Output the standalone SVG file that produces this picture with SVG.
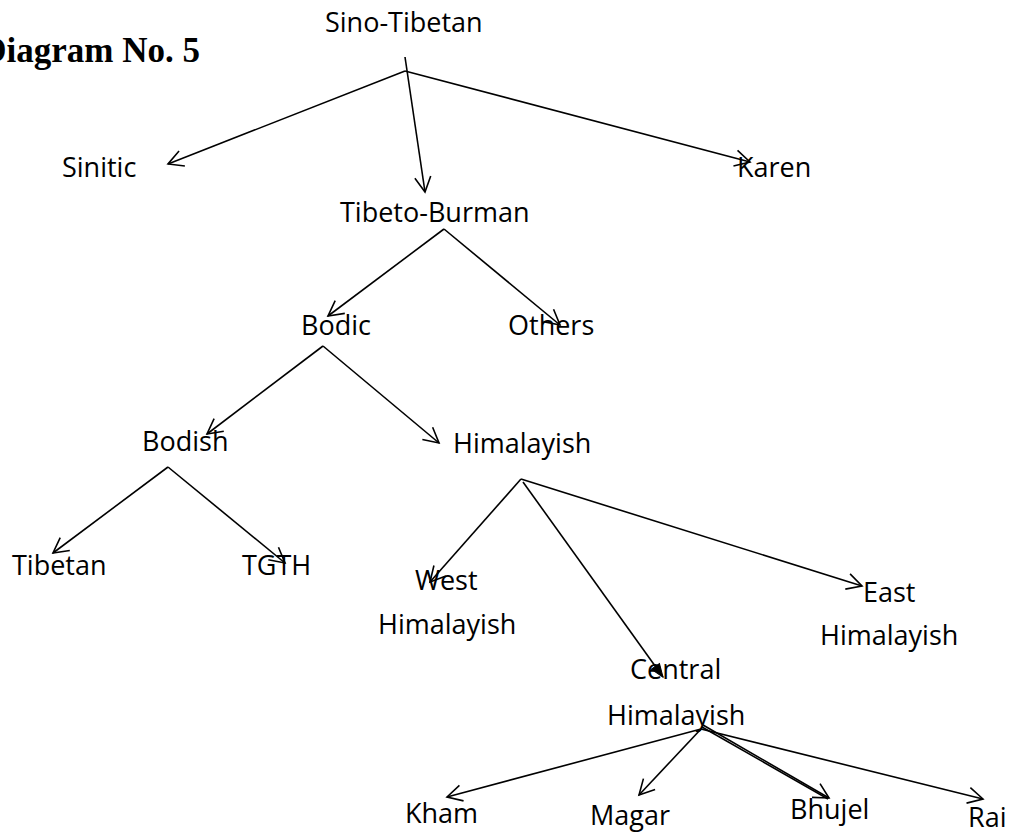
<svg xmlns="http://www.w3.org/2000/svg" width="1015" height="836" viewBox="0 0 1015 836">
<style>
.t{font-family:"Open Sans","Noto Sans",sans-serif;font-size:27px;fill:#000}
.title{font-family:"Liberation Serif","Times New Roman",serif;font-size:35px;font-weight:bold;fill:#000}
.c line{stroke:#000;stroke-width:1.6;fill:none}
</style>
<defs>
<marker id="open" markerUnits="userSpaceOnUse" markerWidth="30" markerHeight="30" refX="0" refY="0" viewBox="-20 -15 30 30" orient="auto" overflow="visible">
<path d="M-15,-8 L0,0 L-15,8" fill="none" stroke="#000" stroke-width="1.6"/>
</marker>
<marker id="solid" markerUnits="userSpaceOnUse" markerWidth="30" markerHeight="30" refX="0" refY="0" viewBox="-20 -15 30 30" orient="auto" overflow="visible">
<path d="M-13,-5 L0,0 L-13,5 Z" fill="#000" stroke="#000" stroke-width="1"/>
</marker>
</defs>
<rect width="1015" height="836" fill="#fff"/>
<text class="title" x="200" y="62" text-anchor="end">Diagram No. 5</text>
<g class="c" id="connectors">
<line x1="405" y1="57" x2="425" y2="192" marker-end="url(#open)"/>
<line x1="405" y1="71" x2="168" y2="164" marker-end="url(#open)"/>
<line x1="405" y1="71" x2="750" y2="162" marker-end="url(#open)"/>
<line x1="444" y1="229" x2="328" y2="316" marker-end="url(#open)"/>
<line x1="444" y1="229" x2="560" y2="325" marker-end="url(#open)"/>
<line x1="323" y1="346" x2="207" y2="434" marker-end="url(#open)"/>
<line x1="323" y1="346" x2="439" y2="443" marker-end="url(#open)"/>
<line x1="168" y1="467" x2="53" y2="553" marker-end="url(#open)"/>
<line x1="168" y1="467" x2="285" y2="563" marker-end="url(#open)"/>
<line x1="521" y1="479" x2="430" y2="582" marker-end="url(#open)"/>
<line x1="523" y1="482" x2="663" y2="677" marker-end="url(#solid)"/>
<line x1="521" y1="479" x2="862" y2="586" marker-end="url(#open)"/>
<line x1="701" y1="729" x2="447" y2="797" marker-end="url(#open)"/>
<line x1="701" y1="729" x2="639" y2="795" marker-end="url(#open)"/>
<line x1="703" y1="725" x2="829" y2="798" marker-end="url(#open)"/>
<line x1="702" y1="727" x2="828" y2="799"/>
<line x1="701" y1="729" x2="983" y2="799" marker-end="url(#open)"/>
</g>
<g id="n-sino"><text class="t" x="325" y="32">Sino-Tibetan</text></g>
<g id="n-sinitic"><text class="t" x="62" y="177">Sinitic</text></g>
<g id="n-karen"><text class="t" x="737" y="177">Karen</text></g>
<g id="n-tb"><text class="t" x="340" y="222">Tibeto-Burman</text></g>
<g id="n-bodic"><text class="t" x="301" y="335">Bodic</text></g>
<g id="n-others"><text class="t" x="508" y="335">Others</text></g>
<g id="n-bodish"><text class="t" x="142" y="451">Bodish</text></g>
<g id="n-himalayish"><text class="t" x="453" y="453">Himalayish</text></g>
<g id="n-tibetan"><text class="t" x="12" y="575">Tibetan</text></g>
<g id="n-tgth"><text class="t" x="242" y="575">TGTH</text></g>
<g id="n-west"><text class="t" x="415" y="590">West</text><text class="t" x="378" y="634">Himalayish</text></g>
<g id="n-east"><text class="t" x="863" y="602">East</text><text class="t" x="820" y="645">Himalayish</text></g>
<g id="n-central"><text class="t" x="630" y="679">Central</text><text class="t" x="607" y="725">Himalayish</text></g>
<g id="n-kham"><text class="t" x="405" y="823">Kham</text></g>
<g id="n-magar"><text class="t" x="590" y="825">Magar</text></g>
<g id="n-bhujel"><text class="t" x="790" y="819">Bhujel</text></g>
<g id="n-rai"><text class="t" x="968" y="827">Rai</text></g>
</svg>
